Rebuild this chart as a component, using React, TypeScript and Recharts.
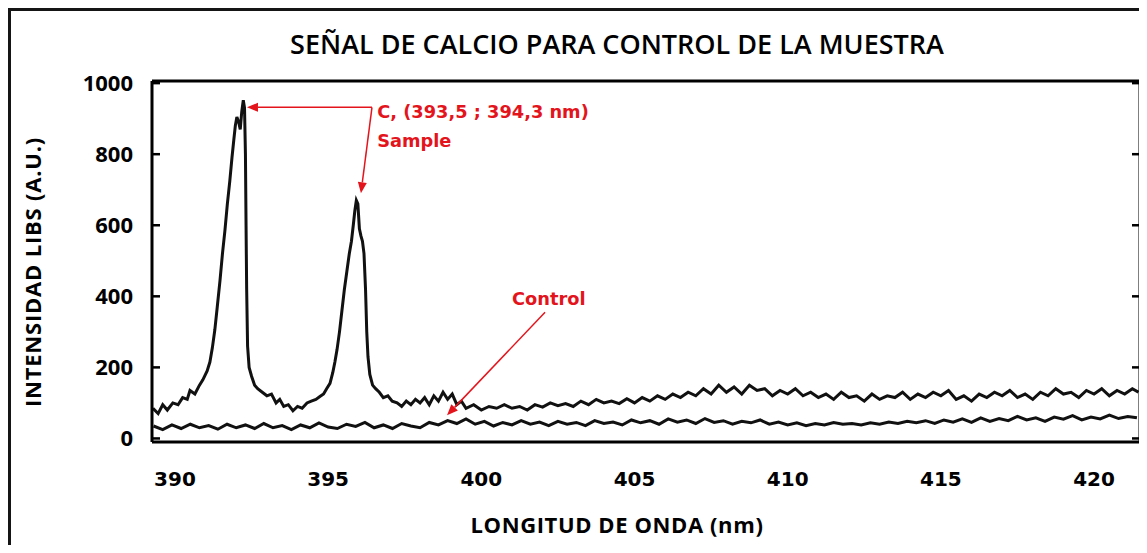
import React from 'react';
import { LineChart, Line, XAxis, YAxis, ReferenceLine, ReferenceDot } from 'recharts';

// wavelength (nm) / intensity
const sampleNm = [
  389.28, 389.45, 389.6, 389.75, 389.93, 390.1, 390.25, 390.4, 390.49, 390.65, 390.8, 390.91,
  391.05, 391.14, 391.22, 391.3, 391.38, 391.47, 391.55, 391.63, 391.71, 391.79, 391.86, 391.92,
  391.97, 392.02, 392.08, 392.13, 392.18, 392.23, 392.27, 392.3, 392.32, 392.34, 392.37, 392.42,
  392.5, 392.6, 392.7, 392.85, 393.0, 393.15, 393.3, 393.42, 393.55, 393.7, 393.85, 394.0,
  394.15, 394.31, 394.45, 394.6, 394.73, 394.85, 394.95, 395.06, 395.15, 395.22, 395.29, 395.37,
  395.45, 395.53, 395.61, 395.69, 395.76, 395.82, 395.87, 395.92, 395.97, 396.02, 396.07, 396.12,
  396.17, 396.22, 396.26, 396.3, 396.36, 396.45, 396.55, 396.67, 396.8, 396.95, 397.09, 397.25,
  397.4, 397.55, 397.7, 397.85, 398.0, 398.15, 398.3, 398.45, 398.6, 398.75, 398.9, 399.05,
  399.2, 399.35, 399.5, 399.75, 400.0, 400.25, 400.5, 400.75, 401.0, 401.25, 401.5, 401.75,
  402.0, 402.25, 402.5, 402.75, 403.0, 403.25, 403.5, 403.75, 404.0, 404.25, 404.5, 404.75,
  405.0, 405.25, 405.5, 405.75, 406.0, 406.25, 406.5, 406.75, 407.0, 407.25, 407.5, 407.75,
  408.0, 408.25, 408.5, 408.75, 409.0, 409.25, 409.5, 409.75, 410.0, 410.25, 410.5, 410.75,
  411.0, 411.25, 411.5, 411.75, 412.0, 412.25, 412.5, 412.75, 413.0, 413.25, 413.5, 413.75,
  414.0, 414.25, 414.5, 414.75, 415.0, 415.25, 415.5, 415.75, 416.0, 416.25, 416.5, 416.75,
  417.0, 417.25, 417.5, 417.75, 418.0, 418.25, 418.5, 418.75, 419.0, 419.25, 419.5, 419.75,
  420.0, 420.25, 420.5, 420.75, 421.0, 421.25, 421.45,
];
const sampleVal = [
  85, 70, 95, 80, 100, 95, 115, 110, 135, 125, 150, 165,
  190, 215, 255, 305, 370, 445, 520, 585, 660, 725, 790, 840,
  880, 905, 890, 870, 920, 952, 930, 800, 600, 420, 260, 200,
  175, 150, 140, 130, 120, 125, 100, 110, 90, 95, 78, 90,
  85, 100, 105, 110, 118, 125, 140, 155, 185, 215, 250, 300,
  360, 420, 470, 520, 555, 600, 640, 670, 660, 590, 570, 555,
  520, 420, 300, 230, 180, 150, 140, 130, 115, 120, 105, 100,
  90, 105, 95, 110, 100, 115, 95, 120, 105, 130, 110, 125,
  95, 105, 85, 95, 80, 90, 85, 95, 85, 90, 80, 95,
  88, 100, 92, 98, 90, 105, 95, 110, 100, 105, 98, 112,
  100, 115, 105, 120, 110, 125, 115, 130, 120, 140, 125, 150,
  130, 145, 125, 150, 135, 140, 120, 135, 125, 140, 120, 130,
  115, 125, 110, 130, 115, 120, 105, 125, 110, 120, 115, 130,
  110, 125, 115, 130, 120, 135, 110, 120, 105, 125, 115, 130,
  120, 135, 115, 125, 110, 130, 120, 140, 125, 130, 115, 135,
  125, 140, 120, 135, 125, 140, 130,
];
const controlNm = [
  389.3, 389.6, 389.9, 390.2, 390.5, 390.8, 391.1, 391.4, 391.7, 392.0, 392.3, 392.6,
  392.9, 393.2, 393.5, 393.8, 394.1, 394.4, 394.7, 395.0, 395.3, 395.6, 395.9, 396.2,
  396.5, 396.8, 397.1, 397.4, 397.7, 398.0, 398.3, 398.6, 398.9, 399.2, 399.5, 399.8,
  400.1, 400.4, 400.7, 401.0, 401.3, 401.6, 401.9, 402.2, 402.5, 402.8, 403.1, 403.4,
  403.7, 404.0, 404.3, 404.6, 404.9, 405.2, 405.5, 405.8, 406.1, 406.4, 406.7, 407.0,
  407.3, 407.6, 407.9, 408.2, 408.5, 408.8, 409.1, 409.4, 409.7, 410.0, 410.3, 410.6,
  410.9, 411.2, 411.5, 411.8, 412.1, 412.4, 412.7, 413.0, 413.3, 413.6, 413.9, 414.2,
  414.5, 414.8, 415.1, 415.4, 415.7, 416.0, 416.3, 416.6, 416.9, 417.2, 417.5, 417.8,
  418.1, 418.4, 418.7, 419.0, 419.3, 419.6, 419.9, 420.2, 420.5, 420.8, 421.1, 421.4,
];
const controlVal = [
  35, 25, 38, 28, 40, 30, 36, 26, 40, 30, 38, 28,
  42, 30, 36, 25, 38, 30, 44, 32, 28, 40, 34, 45,
  30, 38, 28, 42, 35, 30, 45, 38, 50, 42, 55, 40,
  48, 35, 45, 38, 50, 40, 46, 36, 48, 40, 45, 36,
  50, 42, 46, 38, 52, 44, 50, 40, 55, 46, 52, 42,
  56, 45, 50, 40, 48, 44, 52, 40, 46, 38, 44, 36,
  42, 38, 45, 40, 42, 38, 44, 40, 46, 42, 48, 44,
  50, 42, 52, 46, 55, 45, 58, 48, 56, 50, 62, 52,
  58, 48, 60, 54, 64, 52, 60, 55, 66, 56, 62, 58,
];
const xTicks = [390, 395, 400, 405, 410, 415, 420];
const yTicks = [0, 200, 400, 600, 800, 1000];

const sampleData = sampleNm.map((nm, i) => ({ nm, v: sampleVal[i] }));
const controlData = controlNm.map((nm, i) => ({ nm, v: controlVal[i] }));

const X_DOMAIN = [389.25, 421.5];
const Y_DOMAIN = [-10, 1006];
const RED = '#e3141c';
const INK = '#151515';
const FONT = '"Open Sans", sans-serif';
const WIDE = '"DejaVu Sans", Verdana, sans-serif';

const Arrow = (p: any) => {
  const { x1, y1, x2, y2 } = p;
  const a = Math.atan2(y2 - y1, x2 - x1);
  const L = 11;
  const W = 4.5;
  const bx = x2 - L * Math.cos(a);
  const by = y2 - L * Math.sin(a);
  const pts = `${x2},${y2} ${bx + W * Math.sin(a)},${by - W * Math.cos(a)} ${bx - W * Math.sin(a)},${by + W * Math.cos(a)}`;
  return (
    <g>
      <line x1={x1} y1={y1} x2={bx} y2={by} stroke={RED} strokeWidth={1.5} />
      <polygon points={pts} fill={RED} />
    </g>
  );
};

const note = (text: string, anchor: 'start' | 'middle') => (p: any) => (
  <text x={p.cx} y={p.cy} textAnchor={anchor} fill={RED} fontFamily={WIDE} fontWeight={700} fontSize={17.8}>
    {text}
  </text>
);

const LeftTick = ({ x, y, payload }: any) => (
  <g>
    <line x1={x} x2={x + 8} y1={y} y2={y} stroke="#000" strokeWidth={2.5} />
    <text x={x - 19} y={y} dy="0.35em" textAnchor="end" fill="#000" fontFamily={FONT} fontWeight={700} fontSize={22}>
      {payload.value}
    </text>
  </g>
);

const RightTick = ({ x, y }: any) => <line x1={x - 8} x2={x} y1={y} y2={y} stroke="#000" strokeWidth={2.5} />;

// title plus the thick frame of the scanned figure
const TitleAndFrame = () => (
  <g>
    <rect x={0} y={0} width={1147} height={11} fill={INK} />
    <rect x={0} y={0} width={11} height={553} fill={INK} />
    <rect x={0} y={546} width={1147} height={7} fill={INK} />
    <text x={617} y={54} textAnchor="middle" fill="#000" fontFamily={FONT} fontWeight={600} fontSize={27}>
      SEÑAL DE CALCIO PARA CONTROL DE LA MUESTRA
    </text>
  </g>
);

export default function App() {
  return (
    <div style={{ width: 1147, height: 553, margin: -8, background: '#fff', overflow: 'hidden' }}>
      <LineChart width={1147} height={553} margin={{ top: 0, right: 0, bottom: 0, left: 0 }}>
        <XAxis
          xAxisId="x"
          dataKey="nm"
          type="number"
          domain={X_DOMAIN}
          allowDataOverflow
          ticks={xTicks}
          height={111}
          tickLine={false}
          tickSize={0}
          tickMargin={30}
          axisLine={{ stroke: '#000', strokeWidth: 3 }}
          tick={{ fill: '#000', fontSize: 20, fontWeight: 700, fontFamily: WIDE }}
          label={{
            content: () => (
              <text x={617} y={533} textAnchor="middle" fill="#000" fontFamily={FONT} fontWeight={700} fontSize={22} letterSpacing={0.6}>
                LONGITUD DE ONDA (nm)
              </text>
            ),
          }}
        />
        <XAxis
          xAxisId="top"
          orientation="top"
          type="number"
          domain={X_DOMAIN}
          allowDataOverflow
          height={81}
          tick={false}
          tickLine={false}
          axisLine={{ stroke: '#000', strokeWidth: 3 }}
          label={{ content: () => <TitleAndFrame /> }}
        />
        <YAxis
          yAxisId="y"
          type="number"
          domain={Y_DOMAIN}
          allowDataOverflow
          ticks={yTicks}
          width={152}
          tickLine={false}
          tickSize={0}
          tickMargin={0}
          axisLine={{ stroke: '#000', strokeWidth: 3 }}
          tick={<LeftTick />}
          label={{
            content: () => (
              <text
                x={32}
                y={272}
                transform="rotate(-90, 32, 272)"
                textAnchor="middle"
                dominantBaseline="central"
                fill="#000"
                fontFamily={FONT}
                fontWeight={700}
                fontSize={22}
                letterSpacing={0.8}
              >
                INTENSIDAD LIBS (A.U.)
              </text>
            ),
          }}
        />
        <YAxis
          yAxisId="r"
          orientation="right"
          type="number"
          domain={Y_DOMAIN}
          allowDataOverflow
          ticks={yTicks}
          width={7}
          tickLine={false}
          tickSize={0}
          tickMargin={0}
          axisLine={{ stroke: '#000', strokeWidth: 3 }}
          tick={<RightTick />}
        />
        <Line
          xAxisId="x"
          yAxisId="y"
          data={controlData}
          dataKey="v"
          type="linear"
          stroke="#111"
          strokeWidth={3}
          dot={false}
          isAnimationActive={false}
        />
        <Line
          xAxisId="x"
          yAxisId="y"
          data={sampleData}
          dataKey="v"
          type="linear"
          stroke="#111"
          strokeWidth={3}
          dot={false}
          isAnimationActive={false}
        />
        <ReferenceLine xAxisId="x" yAxisId="y" segment={[{ x: 396.43, y: 932 }, { x: 392.35, y: 932 }]} shape={Arrow} />
        <ReferenceLine xAxisId="x" yAxisId="y" segment={[{ x: 396.43, y: 932 }, { x: 396.07, y: 690 }]} shape={Arrow} />
        <ReferenceLine xAxisId="x" yAxisId="y" segment={[{ x: 402.08, y: 355 }, { x: 398.88, y: 65 }]} shape={Arrow} />
        <ReferenceDot xAxisId="x" yAxisId="y" x={396.6} y={901} r={0} shape={note('C, (393,5 ; 394,3 nm)', 'start')} />
        <ReferenceDot xAxisId="x" yAxisId="y" x={396.6} y={820} r={0} shape={note('Sample', 'start')} />
        <ReferenceDot xAxisId="x" yAxisId="y" x={402.2} y={375} r={0} shape={note('Control', 'middle')} />
      </LineChart>
    </div>
  );
}
